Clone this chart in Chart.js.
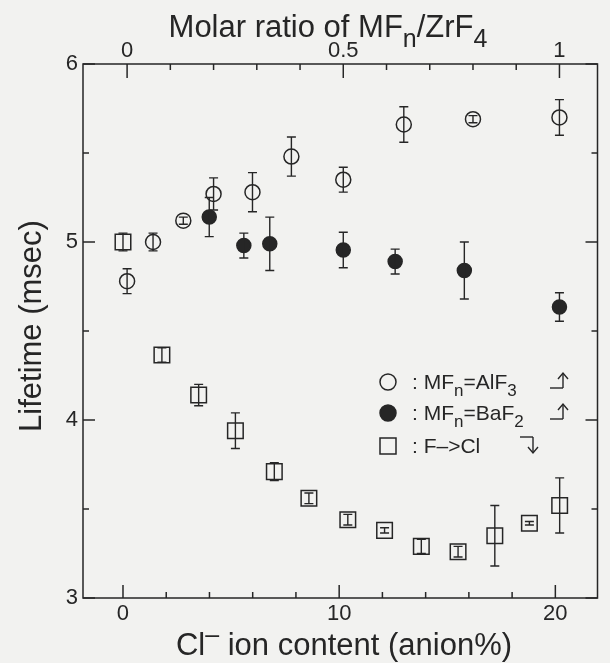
<!DOCTYPE html>
<html>
<head>
<meta charset="utf-8">
<script src="https://cdn.jsdelivr.net/npm/chart.js@4.4.1/dist/chart.umd.min.js"></script>
<style>
  html, body { margin: 0; padding: 0; background: #f2f2f0; }
</style>
</head>
<body>
<canvas id="lifeChart" width="610" height="663"></canvas>
<script>
// F -> Cl substitution, against Cl- content in anion% (bottom axis)
const clContent  = [0, 1.8, 3.5, 5.2, 7.0, 8.6, 10.4, 12.1, 13.8, 15.5, 17.2, 18.8, 20.2];
const clLifetime = [5.0, 4.365, 4.14, 3.94, 3.71, 3.56, 3.44, 3.38, 3.29, 3.26, 3.35, 3.42, 3.52];
const clErr      = [0.05, 0.04, 0.06, 0.10, 0.05, 0.03, 0.03, 0.015, 0.04, 0.03, 0.17, 0.01, 0.155];

// MFn = AlF3, against molar ratio MFn/ZrF4 (top axis)
const alfRatio    = [0, 0.06, 0.13, 0.2, 0.29, 0.38, 0.5, 0.64, 0.8, 1.0];
const alfLifetime = [4.78, 5.0, 5.12, 5.27, 5.28, 5.48, 5.35, 5.66, 5.69, 5.70];
const alfErr      = [0.07, 0.05, 0.02, 0.09, 0.11, 0.11, 0.07, 0.10, 0.02, 0.10];

// MFn = BaF2
const bafRatio    = [0.19, 0.27, 0.33, 0.5, 0.62, 0.78, 1.0];
const bafLifetime = [5.14, 4.98, 4.99, 4.955, 4.89, 4.84, 4.635];
const bafErr      = [0.11, 0.07, 0.15, 0.10, 0.07, 0.16, 0.08];

const bottomTicks = [0, 10, 20];
const topTicks = [0, 0.5, 1];
const yTicks = [3, 4, 5, 6];

const ink = '#262626';
const paper = '#f2f2f0';
const FONT = '"Liberation Sans", Arial, sans-serif';

function pts(xs, ys) {
    return xs.map((x, i) => ({ x: x, y: ys[i] }));
}

// text with sub/superscript pieces: [text, 0 normal | 1 sub | 2 sup]
function drawRich(ctx, parts, x, y, size, align) {
    const fontOf = p => (p[1] ? Math.round(size * 0.8) : size) + 'px ' + FONT;
    let total = 0;
    parts.forEach(p => { ctx.font = fontOf(p); total += ctx.measureText(p[0]).width; });
    let cx = align === 'left' ? x : x - total / 2;
    ctx.textAlign = 'left';
    ctx.textBaseline = 'alphabetic';
    parts.forEach(p => {
        ctx.font = fontOf(p);
        let dy = 0;
        if (p[1] === 1) dy = size * 0.33;
        if (p[1] === 2) dy = -size * 0.38;
        ctx.fillText(p[0], cx, y + dy);
        cx += ctx.measureText(p[0]).width;
    });
}

const background = {
    id: 'background',
    beforeDraw(chart) {
        const ctx = chart.ctx;
        ctx.save();
        ctx.fillStyle = paper;
        ctx.fillRect(0, 0, chart.width, chart.height);
        ctx.restore();
    }
};

const errorBars = {
    id: 'errorBars',
    afterDatasetsDraw(chart) {
        const ctx = chart.ctx;
        const ys = chart.scales.y;
        ctx.save();
        ctx.strokeStyle = ink;
        ctx.lineWidth = 1.4;
        chart.data.datasets.forEach((ds, i) => {
            const meta = chart.getDatasetMeta(i);
            meta.data.forEach((el, j) => {
                const v = ds.data[j].y, e = ds.err[j];
                const lo = ys.getPixelForValue(v - e);
                const hi = ys.getPixelForValue(v + e);
                ctx.beginPath();
                ctx.moveTo(el.x, lo); ctx.lineTo(el.x, hi);
                ctx.moveTo(el.x - 4.5, lo); ctx.lineTo(el.x + 4.5, lo);
                ctx.moveTo(el.x - 4.5, hi); ctx.lineTo(el.x + 4.5, hi);
                ctx.stroke();
            });
        });
        ctx.restore();
    }
};

const frame = {
    id: 'frame',
    afterDraw(chart) {
        const { ctx, chartArea: a, scales } = chart;
        const line = (x1, y1, x2, y2) => {
            ctx.beginPath(); ctx.moveTo(x1, y1); ctx.lineTo(x2, y2); ctx.stroke();
        };
        ctx.save();
        ctx.strokeStyle = ink;
        ctx.lineWidth = 1.5;
        ctx.strokeRect(a.left, a.top, a.right - a.left, a.bottom - a.top);

        // inward ticks
        for (let v = 0; v <= 20; v += 2) {
            const px = scales.x.getPixelForValue(v);
            line(px, a.bottom, px, a.bottom - (bottomTicks.includes(v) ? 13 : 6));
        }
        for (let k = 0; k <= 10; k++) {
            const px = scales.x2.getPixelForValue(k / 10);
            line(px, a.top, px, a.top + (k % 5 === 0 ? 14 : 6));
        }
        for (let k = 6; k <= 12; k++) {
            const py = scales.y.getPixelForValue(k / 2);
            const len = k % 2 === 0 ? 12 : 6;
            line(a.left, py, a.left + len, py);
            line(a.right, py, a.right - len, py);
        }

        // axis titles
        ctx.fillStyle = ink;
        drawRich(ctx, [['Molar ratio of MF', 0], ['n', 1], ['/ZrF', 0], ['4', 1]], 328, 37, 31);
        drawRich(ctx, [['Cl', 0], ['\u2013', 2], [' ion content (anion%)', 0]], 344, 655, 31);
        ctx.save();
        ctx.translate(41, 326);
        ctx.rotate(-Math.PI / 2);
        drawRich(ctx, [['Lifetime (msec)', 0]], 0, 0, 31);
        ctx.restore();

        // legend
        const lx = a.left + 305, ly = a.top + 318;
        const rows = [
            { kind: 'open', parts: [[': MF', 0], ['n', 1], ['=AlF', 0], ['3', 1]], arrow: 'up' },
            { kind: 'filled', parts: [[': MF', 0], ['n', 1], ['=BaF', 0], ['2', 1]], arrow: 'up' },
            { kind: 'square', parts: [[': F\u2013>Cl', 0]], arrow: 'down' }
        ];
        const gaps = [0, 31, 64];
        rows.forEach((r, i) => {
            const cy = ly + gaps[i];
            ctx.lineWidth = 1.5;
            ctx.beginPath();
            if (r.kind === 'square') {
                ctx.rect(lx - 8, cy - 8, 16, 16);
                ctx.fillStyle = paper; ctx.fill(); ctx.stroke();
            } else {
                ctx.arc(lx, cy, 8, 0, Math.PI * 2);
                ctx.fillStyle = r.kind === 'filled' ? ink : paper;
                ctx.fill(); ctx.stroke();
            }
            ctx.fillStyle = ink;
            drawRich(ctx, r.parts, lx + 24, cy + 7, 21, 'left');

            ctx.lineWidth = 1.4;
            if (r.arrow === 'up') {
                const ax = lx + 175, by = cy + 6;
                line(ax - 13, by, ax, by);
                line(ax, by, ax, by - 15);
                ctx.beginPath();
                ctx.moveTo(ax - 5, by - 9); ctx.lineTo(ax, by - 15); ctx.lineTo(ax + 5, by - 9);
                ctx.stroke();
            } else {
                const ax = lx + 145, ty = cy - 9;
                line(ax - 13, ty, ax, ty);
                line(ax, ty, ax, ty + 16);
                ctx.beginPath();
                ctx.moveTo(ax - 5, ty + 10); ctx.lineTo(ax, ty + 16); ctx.lineTo(ax + 5, ty + 10);
                ctx.stroke();
            }
        });
        ctx.restore();
    }
};

const tickFont = { family: FONT, size: 22 };
const plainLabel = v => String(v);

new Chart(document.getElementById('lifeChart').getContext('2d'), {
    type: 'scatter',
    data: {
        datasets: [
            {
                label: 'MFn=AlF3', data: pts(alfRatio, alfLifetime), err: alfErr,
                xAxisID: 'x2', yAxisID: 'y',
                pointStyle: 'circle', pointRadius: 7.5,
                backgroundColor: paper, borderColor: ink, borderWidth: 1.5
            },
            {
                label: 'MFn=BaF2', data: pts(bafRatio, bafLifetime), err: bafErr,
                xAxisID: 'x2', yAxisID: 'y',
                pointStyle: 'circle', pointRadius: 7,
                backgroundColor: ink, borderColor: ink, borderWidth: 1.5
            },
            {
                label: 'F->Cl', data: pts(clContent, clLifetime), err: clErr,
                xAxisID: 'x', yAxisID: 'y',
                pointStyle: 'rect', pointRadius: 11,
                backgroundColor: paper, borderColor: ink, borderWidth: 1.5
            }
        ]
    },
    options: {
        animation: false,
        responsive: false,
        devicePixelRatio: 1,
        layout: { padding: { left: 0, right: 1, top: 0, bottom: 0 } },
        plugins: { legend: { display: false }, tooltip: { enabled: false } },
        scales: {
            x: {
                type: 'linear', position: 'bottom', min: -1.85, max: 21.95,
                grid: { display: false, drawTicks: false }, border: { display: false },
                afterBuildTicks: s => { s.ticks = bottomTicks.map(v => ({ value: v })); },
                afterFit: s => { s.height = 65; },
                ticks: { font: tickFont, color: ink, padding: 3, maxRotation: 0, autoSkip: false, callback: plainLabel }
            },
            x2: {
                type: 'linear', position: 'top', min: -0.102, max: 1.088,
                grid: { display: false, drawTicks: false }, border: { display: false },
                afterBuildTicks: s => { s.ticks = topTicks.map(v => ({ value: v })); },
                afterFit: s => { s.height = 64; },
                ticks: { font: tickFont, color: ink, padding: 0, maxRotation: 0, autoSkip: false, callback: plainLabel }
            },
            y: {
                type: 'linear', position: 'left', min: 3, max: 6,
                grid: { display: false, drawTicks: false }, border: { display: false },
                afterBuildTicks: s => { s.ticks = yTicks.map(v => ({ value: v })); },
                afterFit: s => { s.width = 83; },
                ticks: { font: tickFont, color: ink, padding: 5, callback: plainLabel }
            }
        }
    },
    plugins: [background, errorBars, frame]
});
</script>
</body>
</html>
